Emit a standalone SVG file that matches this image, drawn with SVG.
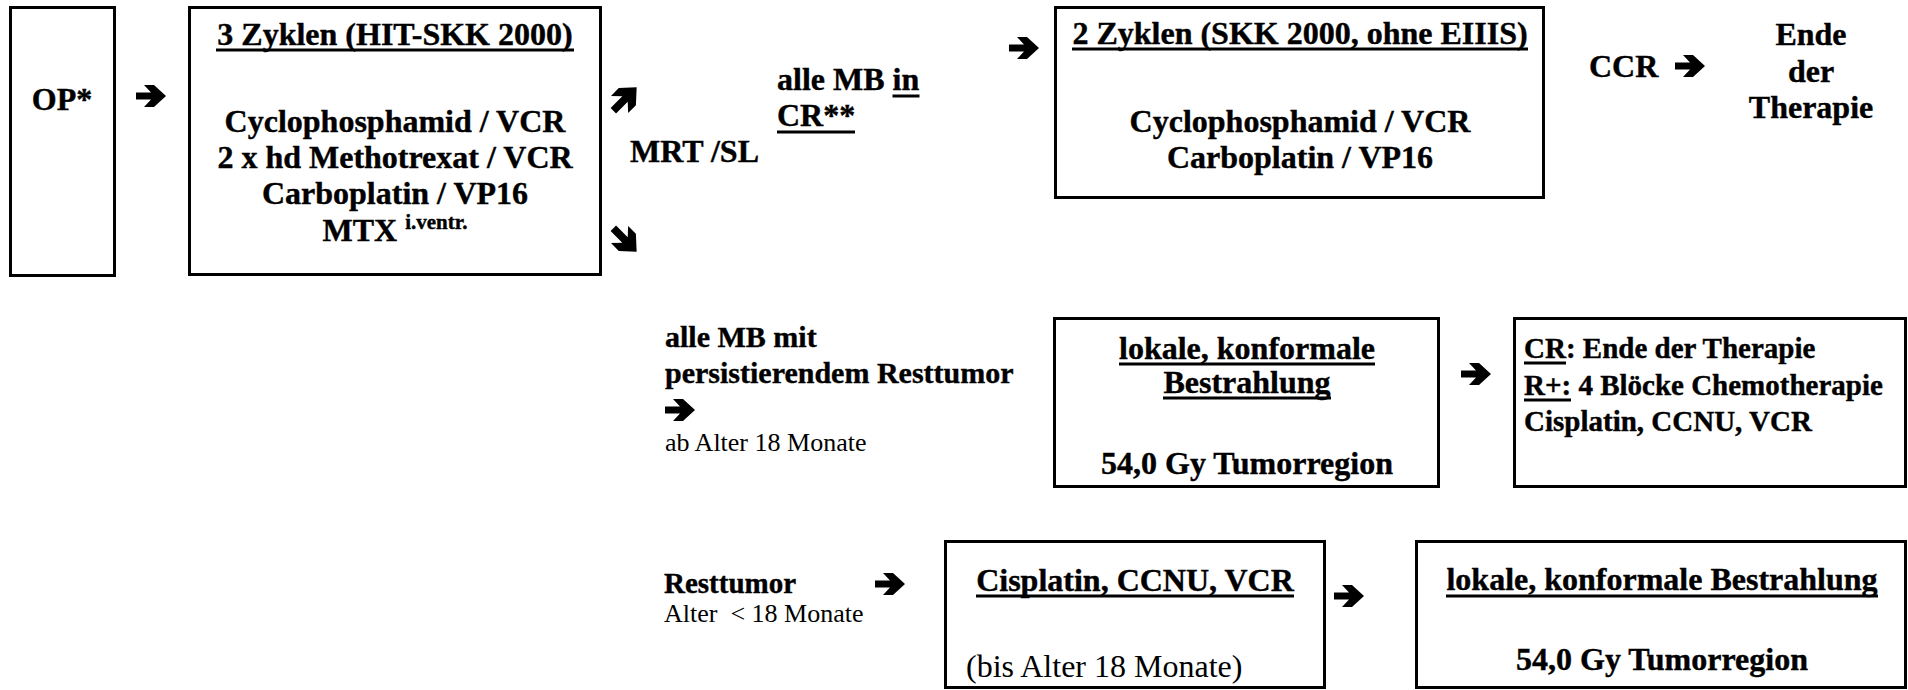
<svg xmlns="http://www.w3.org/2000/svg" xmlns:xlink="http://www.w3.org/1999/xlink" width="1908" height="690" viewBox="0 0 1908 690">
<style>
.b{font-family:"Liberation Serif","Times New Roman",serif;font-weight:bold;font-size:32px;fill:#000;stroke:#000;stroke-width:0.4}
.n{font-family:"Liberation Serif","Times New Roman",serif;font-weight:normal;font-size:32px;fill:#000}
.s26{font-size:26px}
.s29{font-size:29px}
.s30{font-size:30px}
.m{text-anchor:middle}
.box{fill:#fff;stroke:#000;stroke-width:3}
.ul{stroke:#000;stroke-width:3}
.arr{fill:#000}
</style>
<defs>
<path id="arrow" d="M-15,-3.5 H0 L-7,-11 H3 L15,0 L3,11 H-7 L0,3.5 H-15 Z"/>
</defs>
<rect width="1908" height="690" fill="#fff"/>

<g id="op">
<rect class="box" x="10.5" y="7.5" width="104" height="268"/>
<text class="b m" x="62" y="110">OP*</text>
</g>

<g id="zyklen3">
<rect class="box" x="189.5" y="7.5" width="411" height="267"/>
<text class="b m" x="395" y="45">3 Zyklen (HIT-SKK 2000)</text>
<line class="ul" x1="216" y1="50" x2="574" y2="50"/>
<text class="b m" x="395" y="132">Cyclophosphamid / VCR</text>
<text class="b m" x="395" y="168">2 x hd Methotrexat / VCR</text>
<text class="b m" x="395" y="204">Carboplatin / VP16</text>
<text class="b m" x="395" y="241">MTX <tspan font-size="21" dy="-12">i.ventr.</tspan></text>
</g>

<g id="mrt">
<text class="b" x="630" y="162">MRT /SL</text>
</g>

<g id="label-cr">
<text class="b" x="777" y="90">alle MB in</text>
<line class="ul" x1="892.5" y1="96" x2="919.5" y2="96"/>
<text class="b" x="777" y="126">CR**</text>
<line class="ul" x1="777" y1="132" x2="855" y2="132"/>
</g>

<g id="zyklen2">
<rect class="box" x="1055.5" y="7.5" width="488" height="190"/>
<text class="b m" x="1300" y="44">2 Zyklen (SKK 2000, ohne EIIIS)</text>
<line class="ul" x1="1072" y1="49" x2="1528" y2="49"/>
<text class="b m" x="1300" y="132">Cyclophosphamid / VCR</text>
<text class="b m" x="1300" y="168">Carboplatin / VP16</text>
</g>

<g id="ccr">
<text class="b" x="1589" y="77">CCR</text>
</g>

<g id="ende">
<text class="b m" x="1811" y="45">Ende</text>
<text class="b m" x="1811" y="82">der</text>
<text class="b m" x="1811" y="118">Therapie</text>
</g>

<g id="label-rest">
<text class="b s30" x="665" y="347">alle MB mit</text>
<text class="b s30" x="665" y="383">persistierendem Resttumor</text>
<text class="n s26" x="665" y="451">ab Alter 18 Monate</text>
</g>

<g id="bestrahlung1">
<rect class="box" x="1054.5" y="318.5" width="384" height="168"/>
<text class="b m" x="1247" y="359">lokale, konformale</text>
<line class="ul" x1="1119" y1="364" x2="1375" y2="364"/>
<text class="b m" x="1247" y="393">Bestrahlung</text>
<line class="ul" x1="1163" y1="398" x2="1331" y2="398"/>
<text class="b m" x="1247" y="474">54,0 Gy Tumorregion</text>
</g>

<g id="ergebnis">
<rect class="box" x="1514.5" y="318.5" width="391" height="168"/>
<text class="b s29" x="1524" y="358">CR: Ende der Therapie</text>
<line class="ul" x1="1524" y1="363" x2="1566" y2="363"/>
<text class="b s29" x="1524" y="395">R+: 4 Blöcke Chemotherapie</text>
<line class="ul" x1="1524" y1="400" x2="1571" y2="400"/>
<text class="b s29" x="1524" y="431">Cisplatin, CCNU, VCR</text>
</g>

<g id="label-klein">
<text class="b s29" x="664" y="593">Resttumor</text>
<text class="n s26" x="664" y="622" xml:space="preserve">Alter  &lt; 18 Monate</text>
</g>

<g id="chemo-klein">
<rect class="box" x="945.5" y="541.5" width="379" height="146"/>
<text class="b m" x="1135" y="591">Cisplatin, CCNU, VCR</text>
<line class="ul" x1="976" y1="596" x2="1294" y2="596"/>
<text class="n" x="966" y="677">(bis Alter 18 Monate)</text>
</g>

<g id="bestrahlung2">
<rect class="box" x="1416.5" y="541.5" width="489" height="146"/>
<text class="b m" x="1662" y="590">lokale, konformale Bestrahlung</text>
<line class="ul" x1="1446" y1="596" x2="1878" y2="596"/>
<text class="b m" x="1662" y="670">54,0 Gy Tumorregion</text>
</g>

<g id="connectors" class="arr">
<use xlink:href="#arrow" href="#arrow" transform="translate(151,96)"/>
<use xlink:href="#arrow" href="#arrow" transform="translate(625,99) rotate(-45) scale(1.1)"/>
<use xlink:href="#arrow" href="#arrow" transform="translate(625,240) rotate(45) scale(1.1)"/>
<use xlink:href="#arrow" href="#arrow" transform="translate(1024,48)"/>
<use xlink:href="#arrow" href="#arrow" transform="translate(1690,66)"/>
<use xlink:href="#arrow" href="#arrow" transform="translate(680,410)"/>
<use xlink:href="#arrow" href="#arrow" transform="translate(1476,374)"/>
<use xlink:href="#arrow" href="#arrow" transform="translate(890,584)"/>
<use xlink:href="#arrow" href="#arrow" transform="translate(1349,596)"/>
</g>
</svg>
